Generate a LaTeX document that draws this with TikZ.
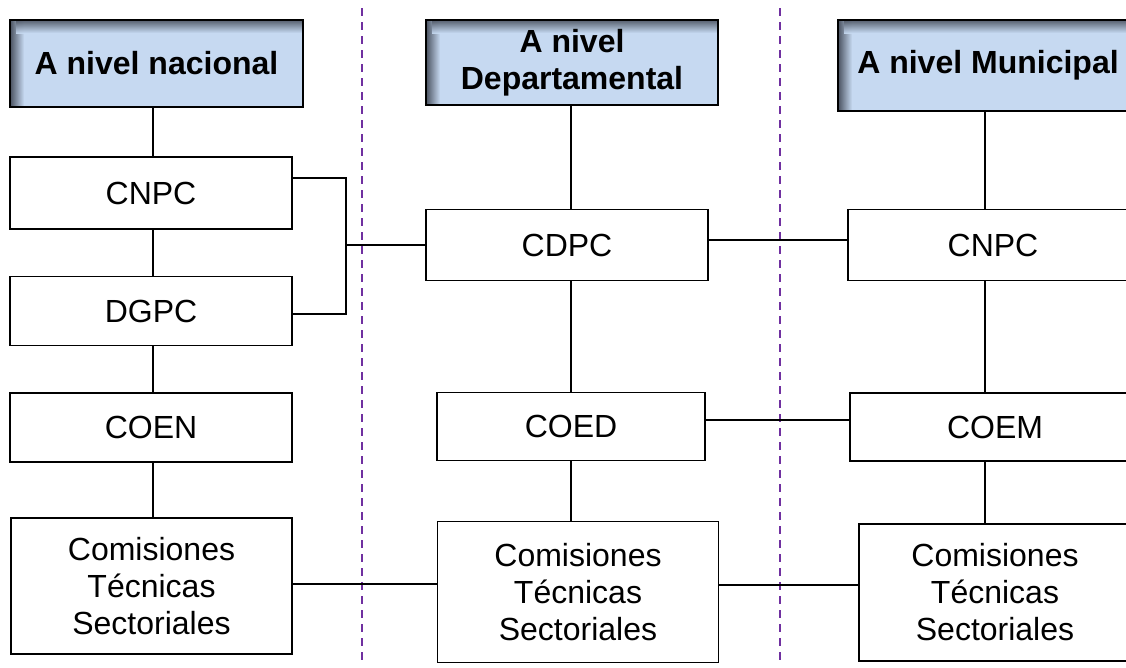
\documentclass[tikz,border=0pt]{standalone}
\usepackage{fontspec}
\setmainfont{Liberation Sans}
\usetikzlibrary{calc}
\definecolor{hdrblue}{HTML}{C6D9F1}
\definecolor{hdrshadow}{HTML}{4A5260}
\definecolor{divider}{HTML}{7030A0}
\begin{document}
\begin{tikzpicture}[x=1pt,y=-1pt,
  hdr/.style={draw=black, line width=2pt, align=center, inner sep=0pt,
    font=\fontsize{32}{37}\selectfont\bfseries,
    path picture={
      \fill[hdrblue] (path picture bounding box.south west) rectangle (path picture bounding box.north east);
      \shade[left color=hdrshadow, right color=hdrblue]
        (path picture bounding box.south west) rectangle ([xshift=14pt]path picture bounding box.north west);
      \shade[top color=hdrshadow, bottom color=hdrblue, opacity=0.9]
        ([xshift=6pt]path picture bounding box.north west) rectangle ([yshift=-13pt]path picture bounding box.north east);
    }},
  box/.style={draw=black, line width=1.5pt, fill=white, align=center, inner sep=0pt,
    font=\fontsize{32}{37}\selectfont},
  link/.style={draw=black, line width=1.5pt},
  sep/.style={draw=divider, line width=2pt, dash pattern=on 8pt off 6pt}
]
\useasboundingbox (0,0) rectangle (1126,667);
\clip (0,0) rectangle (1126,667);

% level dividers
\draw[sep] (362,8) -- (362,662);
\draw[sep] (780,8) -- (780,662);

% headers
\node[hdr, minimum width=293, minimum height=87] (hN) at (156.5,63.5) {A nivel nacional};
\node[hdr, minimum width=292, minimum height=85] (hD) at (572,62.5) {A nivel\\Departamental};
\node[hdr, minimum width=300, minimum height=91] (hM) at (988,65.5) {A nivel Municipal};

% national column
\node[box, minimum width=282, minimum height=72] (cnpcN) at (151,193) {CNPC};
\node[box, minimum width=282, minimum height=69] (dgpcN) at (151,311) {DGPC};
\node[box, minimum width=282, minimum height=69] (coen) at (151,427.5) {COEN};
\node[box, minimum width=281, minimum height=136] (comN) at (151.5,586) {Comisiones\\Técnicas\\Sectoriales};

% departmental column
\node[box, minimum width=282, minimum height=71] (cdpc) at (567,245) {CDPC};
\node[box, minimum width=268, minimum height=68] (coed) at (571,426.5) {COED};
\node[box, minimum width=281, minimum height=141] (comD) at (578,592) {Comisiones\\Técnicas\\Sectoriales};

% municipal column
\node[box, minimum width=290, minimum height=71] (cnpcM) at (993,245) {CNPC};
\node[box, minimum width=290, minimum height=68] (coem) at (995,427) {COEM};
\node[box, minimum width=272, minimum height=137] (comM) at (995,592.5) {Comisiones\\Técnicas\\Sectoriales};

% vertical links
\draw[link] (cnpcN.north -| 153,0) -- (hN.south -| 153,0);
\draw[link] (cnpcN.south -| 153,0) -- (dgpcN.north -| 153,0);
\draw[link] (dgpcN.south -| 153,0) -- (coen.north -| 153,0);
\draw[link] (coen.south -| 153,0) -- (comN.north -| 153,0);
\draw[link] (hD.south -| 571,0) -- (cdpc.north -| 571,0);
\draw[link] (cdpc.south -| 571,0) -- (coed.north -| 571,0);
\draw[link] (coed.south -| 571,0) -- (comD.north -| 571,0);
\draw[link] (hM.south -| 985,0) -- (cnpcM.north -| 985,0);
\draw[link] (cnpcM.south -| 985,0) -- (coem.north -| 985,0);
\draw[link] (coem.south -| 985,0) -- (comM.north -| 985,0);

% bracket joining CNPC and DGPC to CDPC
\coordinate (brTop) at (346,178);
\coordinate (brBot) at (346,314);
\draw[link] (cnpcN.east |- brTop) -- (brTop) -- (brBot) -- (dgpcN.east |- brBot);
\draw[link] (brTop |- cdpc.west) -- (cdpc.west);

% horizontal links
\draw[link] (cdpc.east |- 0,240) -- (cnpcM.west |- 0,240);
\draw[link] (coed.east |- 0,420) -- (coem.west |- 0,420);
\draw[link] (comN.east |- 0,584) -- (comD.west |- 0,584);
\draw[link] (comD.east |- 0,585) -- (comM.west |- 0,585);
\end{tikzpicture}
\end{document}
